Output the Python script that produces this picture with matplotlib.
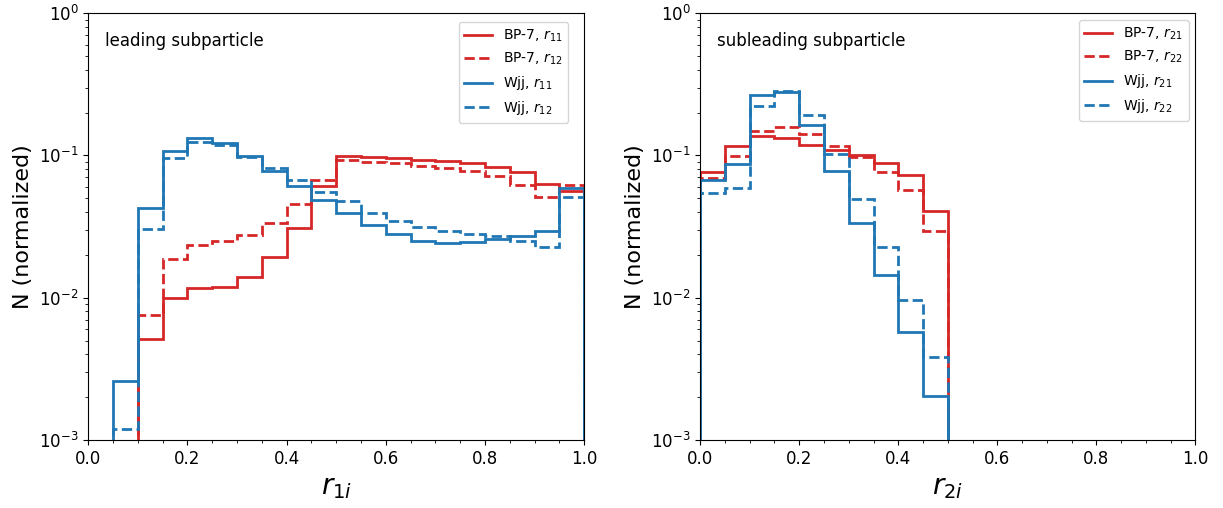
import numpy as np
import matplotlib
matplotlib.use("Agg")
import matplotlib.pyplot as plt
from matplotlib.ticker import MultipleLocator
from matplotlib.lines import Line2D

# bin edges (width 0.05 from 0 to 1)
edges = np.round(np.arange(0.0, 1.0001, 0.05), 2)

# leading subparticle (r_1i)
bp7_r11 = [0, 0, 0.0051, 0.0100, 0.0117, 0.0119, 0.0140, 0.0192, 0.0307, 0.0612,
           0.0985, 0.0974, 0.0958, 0.0930, 0.0908, 0.0879, 0.0829, 0.0759, 0.0626, 0.0565]
bp7_r12 = [0, 0, 0.0075, 0.0188, 0.0235, 0.0250, 0.0275, 0.0337, 0.0454, 0.0673,
           0.0927, 0.0903, 0.0879, 0.0846, 0.0812, 0.0772, 0.0713, 0.0622, 0.0508, 0.0620]
wjj_r11 = [0, 0.0026, 0.0426, 0.108, 0.132, 0.122, 0.099, 0.0782, 0.0614, 0.0485,
           0.0396, 0.0325, 0.0279, 0.0252, 0.0242, 0.0245, 0.0260, 0.0272, 0.0296, 0.0587]
wjj_r12 = [0, 0.0012, 0.0303, 0.0958, 0.125, 0.118, 0.098, 0.0812, 0.0673, 0.0550,
           0.0475, 0.0396, 0.0347, 0.0315, 0.0292, 0.0282, 0.0272, 0.0250, 0.0226, 0.0510]

# subleading subparticle (r_2i)
bp7_r21 = [0.076, 0.117, 0.137, 0.132, 0.119, 0.109, 0.100, 0.0884, 0.0733, 0.0406,
           0, 0, 0, 0, 0, 0, 0, 0, 0, 0]
bp7_r22 = [0.0696, 0.0985, 0.148, 0.158, 0.141, 0.116, 0.097, 0.0762, 0.0567, 0.0293,
           0, 0, 0, 0, 0, 0, 0, 0, 0, 0]
wjj_r21 = [0.0673, 0.0865, 0.264, 0.279, 0.164, 0.0776, 0.0337, 0.0145, 0.0057, 0.00205,
           0, 0, 0, 0, 0, 0, 0, 0, 0, 0]
wjj_r22 = [0.0545, 0.0592, 0.222, 0.282, 0.191, 0.103, 0.0495, 0.0229, 0.0097, 0.00384,
           0, 0, 0, 0, 0, 0, 0, 0, 0, 0]

RED = "#d62728"
BLUE = "#1f77b4"

fig = plt.figure(figsize=(12.23, 5.08), dpi=100)
ax1 = fig.add_axes([0.0722, 0.134, 0.4055, 0.840])
ax2 = fig.add_axes([0.5725, 0.134, 0.4050, 0.840])

centers = (edges[:-1] + edges[1:]) / 2

def draw(ax, series, title, xlabel, legend_kw):
    handles = []
    for vals, color, ls, lab in series:
        ax.hist(centers, bins=edges, weights=vals, histtype="step", color=color,
                linestyle=ls, linewidth=2, log=True)
        handles.append(Line2D([], [], color=color, linestyle=ls, linewidth=2, label=lab))
    ax.set_yscale("log")
    ax.set_ylim(1e-3, 1)
    ax.set_xlim(0, 1)
    ax.xaxis.set_major_locator(MultipleLocator(0.2))
    ax.xaxis.set_minor_locator(MultipleLocator(0.05))
    ax.tick_params(labelsize=12)
    ax.set_ylabel("N (normalized)", fontsize=16)
    ax.set_xlabel(xlabel, fontsize=20)
    ax.text(0.033, 0.935, title, transform=ax.transAxes, fontsize=12,
            ha="left", va="center")
    ax.legend(handles=handles, loc="upper right", fontsize=10, **legend_kw)

draw(ax1, [(bp7_r11, RED, "-", "BP-7, $r_{11}$"),
           (bp7_r12, RED, "--", "BP-7, $r_{12}$"),
           (wjj_r11, BLUE, "-", "Wjj, $r_{11}$"),
           (wjj_r12, BLUE, "--", "Wjj, $r_{12}$")],
     "leading subparticle", "$r_{1i}$",
     dict(bbox_to_anchor=(0.968, 0.979), borderaxespad=0))
draw(ax2, [(bp7_r21, RED, "-", "BP-7, $r_{21}$"),
           (bp7_r22, RED, "--", "BP-7, $r_{22}$"),
           (wjj_r21, BLUE, "-", "Wjj, $r_{21}$"),
           (wjj_r22, BLUE, "--", "Wjj, $r_{22}$")],
     "subleading subparticle", "$r_{2i}$", {})

fig.savefig("out.png", dpi=100)
